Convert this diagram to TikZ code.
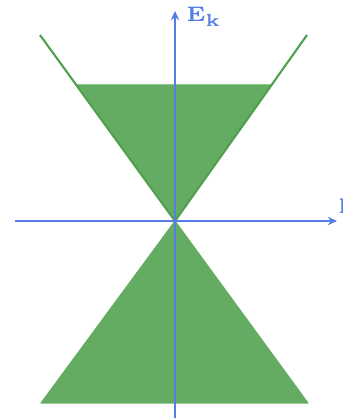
\documentclass[tikz,border=0pt]{standalone}
\usepackage{amsmath}
\usetikzlibrary{arrows.meta,positioning,calc}
\definecolor{conegreen}{RGB}{100,172,98}
\definecolor{coneline}{RGB}{80,160,80}
\definecolor{axisblue}{RGB}{85,125,230}

\begin{document}
\begin{tikzpicture}[x=0.01cm, y=0.01cm]
  \useasboundingbox (0,0) rectangle (342,418);
  \tikzset{
    axis/.style={axisblue, line width=0.6pt, -{Stealth[length=2.6pt,width=2.4pt]}},
    cone/.style={coneline, line width=0.6pt},
    band/.style={fill=conegreen, draw=conegreen, line width=0.3pt, line join=round}
  }
  \coordinate (O) at (175,197);
  \coordinate (ul) at (40,383);
  \coordinate (ur) at (307,383);

  % filled bands
  \filldraw[band] (O) -- (76,333) -- (272,333) -- cycle;
  \filldraw[band] (O) -- (41,15) -- (308,15) -- cycle;
  \draw[cone] (ul) -- (O) -- (ur);

  % axes
  \coordinate (xs) at (15,197);
  \coordinate (xe) at (337,197);
  \coordinate (ys) at (175,0);
  \coordinate (ye) at (175,407);
  \draw[axis] (xs) -- (xe);
  \draw[axis] (ys) -- (ye);
  \node[axisblue, anchor=west, inner sep=0pt, font=\fontsize{6}{7}\selectfont\bfseries] (ek) at (186,401) {E$_{\mathbf{k}}$};
  \node[axisblue, anchor=west, inner sep=0pt, font=\fontsize{6}{7}\selectfont\bfseries] (kx) at (338,212) {k};
\end{tikzpicture}
\end{document}
